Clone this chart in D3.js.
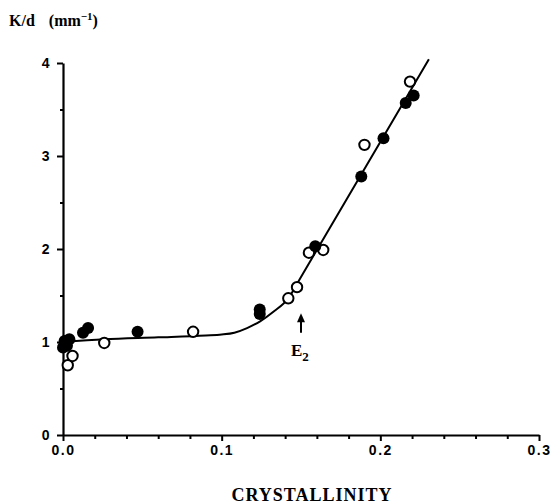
<!DOCTYPE html>
<html>
<head>
<meta charset="utf-8">
<script src="https://cdn.jsdelivr.net/npm/d3@7"></script>
<style>
  html, body { margin: 0; padding: 0; background: #fff; }
  svg { display: block; }
  .tick-label { font-family: "Liberation Sans", Arial, sans-serif; font-weight: bold; font-size: 14px; letter-spacing: 1.5px; }
  .serif { font-family: "Liberation Serif", "Times New Roman", serif; font-weight: bold; }
</style>
</head>
<body>
<script>
// Filled circles: [crystallinity, K/d]
const solidPts = [
  [0.000, 0.94], [0.001, 1.01], [0.0025, 0.96], [0.004, 1.03],
  [0.0126, 1.10], [0.0158, 1.15], [0.047, 1.11],
  [0.124, 1.35], [0.124, 1.30],
  [0.159, 2.03], [0.188, 2.78], [0.202, 3.19], [0.216, 3.57], [0.221, 3.65]
];
// Open circles
const openPts = [
  [0.003, 0.75], [0.006, 0.85], [0.026, 0.99], [0.082, 1.11],
  [0.142, 1.47], [0.1475, 1.59], [0.155, 1.96], [0.164, 1.99],
  [0.190, 3.12], [0.2187, 3.80]
];
// Fitted curve through the data
const curvePts = [
  [0.000, 1.00], [0.026, 1.03], [0.060, 1.05], [0.090, 1.07], [0.100, 1.08],
  [0.108, 1.10], [0.116, 1.15], [0.124, 1.22], [0.133, 1.33], [0.142, 1.47],
  [0.150, 1.70], [0.160, 1.99], [0.2306, 4.04]
];
const xMajor = [0, 0.1, 0.2, 0.3];
const xMinor = [0.02, 0.04, 0.06, 0.08, 0.12, 0.14, 0.16, 0.18, 0.22, 0.24, 0.26, 0.28];
const yMajor = [0, 1, 2, 3, 4];
const yMinor = [0.5, 1.5, 2.5, 3.5];
const marker = { x: 0.15, top: 1.31, bottom: 1.10 };

const W = 556, H = 504;
const svg = d3.select("body").append("svg").attr("width", W).attr("height", H);

const x = d3.scaleLinear().domain([0, 0.3]).range([63, 539]);
const y = d3.scaleLinear().domain([0, 4]).range([435, 63]);

// Axes
const xAxis = d3.axisBottom(x).tickValues(xMajor).tickSize(6).tickPadding(4)
  .tickFormat(d3.format(".1f")).tickSizeOuter(0);
svg.append("g").attr("transform", `translate(0,${y(0)})`).call(xAxis);
svg.append("g").attr("transform", `translate(0,${y(0)})`)
  .call(d3.axisBottom(x).tickValues(xMinor).tickSize(4).tickFormat("").tickSizeOuter(0))
  .call(g => g.select(".domain").remove());

const yAxis = d3.axisLeft(y).tickValues(yMajor).tickSize(6).tickPadding(6)
  .tickFormat(d3.format("d")).tickSizeOuter(0);
svg.append("g").attr("transform", `translate(${x(0)},0)`).call(yAxis);
svg.append("g").attr("transform", `translate(${x(0)},0)`)
  .call(d3.axisLeft(y).tickValues(yMinor).tickSize(3).tickFormat("").tickSizeOuter(0))
  .call(g => g.select(".domain").remove());

svg.selectAll(".domain").attr("stroke", "#000").attr("stroke-width", 2.2);
svg.selectAll(".tick line").attr("stroke", "#000").attr("stroke-width", 2);
svg.selectAll(".tick text").attr("class", "tick-label").attr("fill", "#000");

// Curve
const line = d3.line().x(d => x(d[0])).y(d => y(d[1])).curve(d3.curveMonotoneX);
svg.append("path").datum(curvePts).attr("d", line)
  .attr("fill", "none").attr("stroke", "#000").attr("stroke-width", 2);

// Points
svg.append("g").selectAll("circle").data(openPts).join("circle")
  .attr("cx", d => x(d[0])).attr("cy", d => y(d[1])).attr("r", 5.2)
  .attr("fill", "#fff").attr("stroke", "#000").attr("stroke-width", 2);
svg.append("g").selectAll("circle").data(solidPts).join("circle")
  .attr("cx", d => x(d[0])).attr("cy", d => y(d[1])).attr("r", 6)
  .attr("fill", "#000");

// E2 marker
const ax = x(marker.x);
svg.append("line").attr("x1", ax).attr("x2", ax)
  .attr("y1", y(marker.bottom)).attr("y2", y(marker.top) + 4)
  .attr("stroke", "#000").attr("stroke-width", 2);
svg.append("path")
  .attr("d", `M${ax},${y(marker.top)} L${ax - 4},${y(marker.top) + 9} L${ax + 4},${y(marker.top) + 9} Z`)
  .attr("fill", "#000");
const e2 = svg.append("text").attr("class", "serif").attr("x", ax - 10).attr("y", y(marker.bottom) + 23)
  .attr("font-size", 17);
e2.append("tspan").text("E");
e2.append("tspan").attr("font-size", 13).attr("dy", 5).text("2");

// Axis titles
const yt = svg.append("text").attr("class", "serif").attr("x", 9).attr("y", 26).attr("font-size", 16);
yt.append("tspan").text("K/d");
yt.append("tspan").attr("dx", 14).text("(mm");
yt.append("tspan").attr("font-size", 11).attr("dy", -6).text("\u22121");
yt.append("tspan").attr("dy", 6).text(")");

svg.append("text").attr("class", "serif").attr("x", 312).attr("y", 501)
  .attr("text-anchor", "middle").attr("font-size", 18).attr("letter-spacing", 1)
  .text("CRYSTALLINITY");
</script>
</body>
</html>
